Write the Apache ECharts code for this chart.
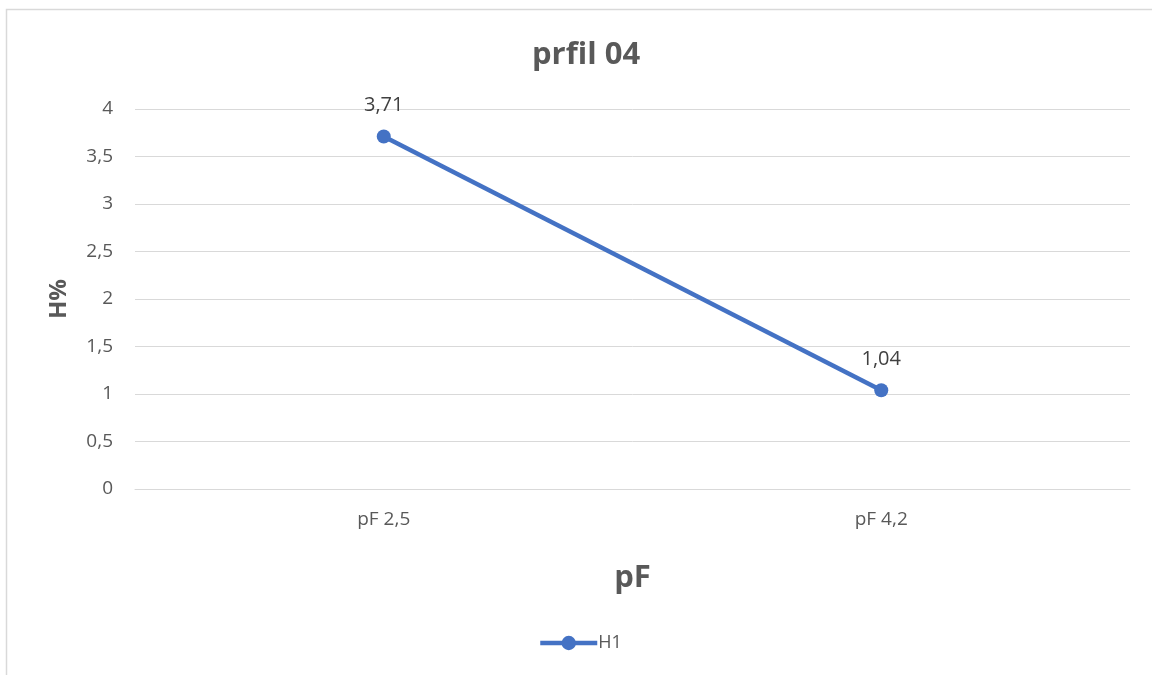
<!DOCTYPE html>
<html>
<head>
<meta charset="utf-8">
<script src="https://cdn.jsdelivr.net/npm/echarts@6/dist/echarts.min.js"></script>
<style>
html,body{margin:0;padding:0;background:#fff;}
#c{width:1152px;height:675px;}
</style>
</head>
<body>
<div id="c"></div>
<script>
const categories = ['pF 2,5', 'pF 4,2'];
const seriesName = 'H1';
const values = [3.71, 1.04];
const yTicks = [0, 0.5, 1, 1.5, 2, 2.5, 3, 3.5, 4];
const titleText = 'prfil 04';
const xName = 'pF';
const yName = 'H%';

const fmt = v => String(v).replace('.', ',');
const FONT = '"Open Sans", "Liberation Sans", sans-serif';
const GRAY = '#595959';

const chart = echarts.init(document.getElementById('c'), null, {renderer: 'canvas'});
chart.setOption({
  animation: false,
  backgroundColor: '#fff',
  graphic: [{
    type: 'rect', silent: true, z: -10,
    shape: {x: 6.5, y: 9.5, width: 1200, height: 700},
    style: {fill: 'none', stroke: '#d9d9d9', lineWidth: 1.5}
  }],
  title: {
    text: titleText, left: 527, top: 35,
    textStyle: {fontFamily: FONT, fontWeight: 'bold', fontSize: 31, color: GRAY}
  },
  legend: {
    top: 629, left: 533,
    itemWidth: 57, itemHeight: 18, itemGap: 6,
    lineStyle: {width: 4.5},
    textStyle: {fontFamily: FONT, fontSize: 18, color: GRAY, padding: [0, 0, 0, -4]},
    data: [seriesName]
  },
  grid: {left: 135, right: 22, top: 109, bottom: 186},
  xAxis: {
    type: 'category', data: categories,
    name: xName, nameLocation: 'middle', nameGap: 74,
    nameTextStyle: {fontFamily: FONT, fontWeight: 'bold', fontSize: 31, color: GRAY},
    axisLine: {lineStyle: {color: '#d9d9d9', width: 1}},
    axisTick: {show: false},
    axisLabel: {fontFamily: FONT, fontSize: 19, color: GRAY, margin: 21}
  },
  yAxis: {
    type: 'value', min: 0, max: 4, interval: 0.5,
    name: yName, nameLocation: 'middle', nameGap: 64, nameRotate: 90,
    nameTextStyle: {fontFamily: FONT, fontWeight: 'bold', fontSize: 24, color: GRAY},
    axisLine: {show: false}, axisTick: {show: false},
    splitLine: {lineStyle: {color: '#d9d9d9', width: 1}},
    axisLabel: {fontFamily: FONT, fontSize: 19, color: GRAY, margin: 22,
      formatter: v => yTicks.includes(v) ? fmt(v) : ''}
  },
  series: [{
    name: seriesName, type: 'line', data: values,
    symbol: 'circle', symbolSize: 14,
    lineStyle: {color: '#4472C4', width: 4.5},
    itemStyle: {color: '#4472C4'},
    label: {show: true, position: 'top', distance: 14,
      fontFamily: FONT, fontSize: 20, color: '#404040',
      formatter: p => fmt(p.value)}
  }]
});
</script>
</body>
</html>
